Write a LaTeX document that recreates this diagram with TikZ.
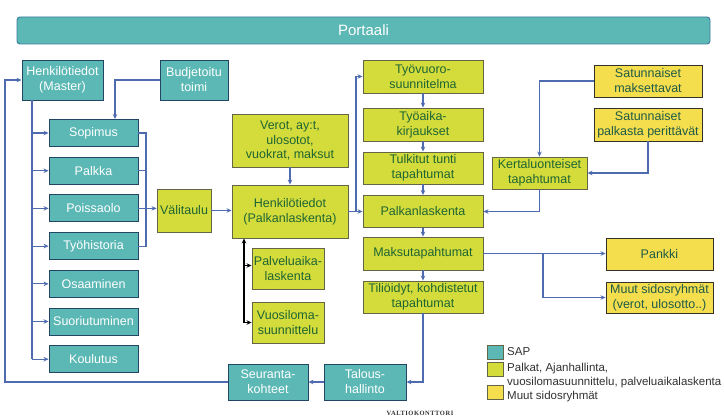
\documentclass[tikz,border=0pt]{standalone}
\usepackage{fontspec}
\setmainfont{Liberation Sans}
\newfontfamily\vkfont[LetterSpace=8]{Liberation Serif}
\usetikzlibrary{arrows.meta,calc}
\definecolor{tealf}{RGB}{91,184,181}
\definecolor{tealb}{RGB}{35,70,100}
\definecolor{greenf}{RGB}{212,220,60}
\definecolor{greenb}{RGB}{100,100,70}
\definecolor{greent}{RGB}{30,100,50}
\definecolor{yellf}{RGB}{245,222,78}
\definecolor{yellb}{RGB}{50,50,40}
\definecolor{yellt}{RGB}{30,90,70}
\definecolor{linec}{RGB}{79,107,176}
\definecolor{titleb}{RGB}{60,125,160}
\definecolor{legt}{RGB}{50,50,50}
\tikzset{
  box/.style={draw, line width=0.9pt, inner sep=0pt, align=center, font=\fontsize{12.5}{15}\selectfont},
  tbox/.style={box, fill=tealf, draw=tealb, text=white},
  gbox/.style={box, fill=greenf, draw=greenb, text=greent},
  ybox/.style={box, fill=yellf, draw=yellb, text=yellt},
  conn/.style={draw=linec, line width=1.1pt, -{Stealth[length=5pt,width=4.5pt]}},
  plain/.style={draw=linec, line width=1.1pt},
  blk/.style={draw=black, line width=1.1pt, -{Stealth[length=5pt,width=4.5pt]}},
  legsq/.style={draw=greenb, line width=0.6pt, inner sep=0pt, minimum width=16, minimum height=14},
  legtxt/.style={anchor=west, inner sep=0pt, text=legt, font=\fontsize{11.5}{13}\selectfont},
}
\begin{document}
\begin{tikzpicture}[x=1pt,y=-1pt]
\useasboundingbox[fill=white] (0,0) rectangle (724,420);
% title
\node[draw=titleb, fill=tealf, line width=0.9pt, rounded corners=3pt, minimum width=693, minimum height=27, inner sep=0pt, text=white, font=\fontsize{15}{17}\selectfont] (portaali) at (363.5,30.5) {Portaali};
% left column
\node[tbox, minimum width=81, minimum height=40] (master) at (62.5,80) {Henkilötiedot\\(Master)};
\node[tbox, minimum width=68, minimum height=40] (budget) at (194,80) {Budjetoitu\\toimi};
\node[tbox, minimum width=89, minimum height=27] (sopimus) at (93.5,133) {Sopimus};
\node[tbox, minimum width=89, minimum height=27] (palkka) at (93.5,170.7) {Palkka};
\node[tbox, minimum width=89, minimum height=27] (poissaolo) at (93.5,208.4) {Poissaolo};
\node[tbox, minimum width=89, minimum height=27] (tyohist) at (93.5,246.1) {Työhistoria};
\node[tbox, minimum width=89, minimum height=27] (osaam) at (93.5,283.8) {Osaaminen};
\node[tbox, minimum width=89, minimum height=27] (suoriut) at (93.5,321.5) {Suoriutuminen};
\node[tbox, minimum width=89, minimum height=27] (koulutus) at (93.5,359.2) {Koulutus};
\node[gbox, minimum width=54, minimum height=43] (valitaulu) at (184,210.5) {Välitaulu};
% middle
\node[gbox, minimum width=116, minimum height=53] (verot) at (290,140.5) {Verot, ay:t,\\ulosotot,\\vuokrat, maksut};
\node[gbox, minimum width=116, minimum height=53] (hp) at (290,211.5) {Henkilötiedot\\(Palkanlaskenta)};
\node[gbox, minimum width=72, minimum height=41] (palvelu) at (288,268.5) {Palveluaika-\\laskenta};
\node[gbox, minimum width=72, minimum height=41] (vuosi) at (288,322.5) {Vuosiloma-\\suunnittelu};
% right column
\node[gbox, minimum width=120, minimum height=33] (tyovuoro) at (423,76.5) {Työvuoro-\\suunnitelma};
\node[gbox, minimum width=120, minimum height=33] (tyoaika) at (423,124.5) {Työaika-\\kirjaukset};
\node[gbox, minimum width=120, minimum height=32] (tulkitut) at (423,168) {Tulkitut tunti\\tapahtumat};
\node[gbox, minimum width=120, minimum height=32] (palkanl) at (423,211.5) {Palkanlaskenta};
\node[gbox, minimum width=120, minimum height=33] (maksu) at (423,253.5) {Maksutapahtumat};
\node[gbox, minimum width=120, minimum height=32] (tilioidyt) at (423,297) {Tiliöidyt, kohdistetut\\tapahtumat};
\node[gbox, minimum width=95, minimum height=32] (kerta) at (539.5,173) {Kertaluonteiset\\tapahtumat};
\node[ybox, minimum width=108, minimum height=32] (satm) at (648,81) {Satunnaiset\\maksettavat};
\node[ybox, minimum width=108, minimum height=33] (satp) at (648,124.5) {Satunnaiset\\palkasta perittävät};
\node[ybox, minimum width=107, minimum height=32] (pankki) at (659.5,254) {Pankki};
\node[ybox, minimum width=107, minimum height=31] (muut) at (659.5,297.5) {Muut sidosryhmät\\(verot, ulosotto..)};
\node[tbox, minimum width=82, minimum height=36] (talous) at (365,382) {Talous-\\hallinto};
\node[tbox, minimum width=80, minimum height=36] (seuranta) at (268,382) {Seuranta-\\kohteet};
% coordinates
\coordinate (loopx) at (5,0);
\coordinate (trunk) at (32,100);
\coordinate (br) at (146,0);
\coordinate (hb) at (356,0);
\coordinate (pb) at (244,0);
\coordinate (mb) at (543,0);
% connectors left
\draw[conn] (seuranta.west) -- (seuranta.west -| loopx) |- (master.west);
\draw[plain] (trunk) -- (trunk |- koulutus.west);
\foreach \b in {sopimus,palkka,poissaolo,tyohist,osaam,suoriut,koulutus}
  \draw[conn] (trunk |- \b.west) -- (\b.west);
\draw[conn] (budget.west) -| ([xshift=21.5]sopimus.north);
\draw[plain] (sopimus.east) -- (sopimus.east -| br) -- (tyohist.east -| br) -- (tyohist.east);
\draw[plain] (palkka.east) -- (palkka.east -| br);
\draw[conn] (poissaolo.east) -- (valitaulu.west |- poissaolo.east);
\draw[conn] (valitaulu.east) -- (hp.west |- valitaulu.east);
\draw[conn] (verot.south) -- (hp.north);
% black
\draw[blk] (pb |- vuosi.west) -- (pb |- hp.south);
\draw[blk] ([yshift=3]pb |- palvelu.west) -- ([yshift=3]palvelu.west);
\draw[blk] (pb |- vuosi.west) -- (vuosi.west);
% right
\draw[conn] (hp.east) -- (palkanl.west);
\draw[conn] (hb |- hp.east) |- (tyovuoro.west);
\draw[conn] (tyovuoro.south) -- (tyoaika.north);
\draw[conn] (tyoaika.south) -- (tulkitut.north);
\draw[conn] (tulkitut.south) -- (palkanl.north);
\draw[conn] (palkanl.south) -- (maksu.north);
\draw[conn] (maksu.south) -- (tilioidyt.north);
\draw[conn] (satm.west) -| (kerta.north);
\draw[conn] (satp.south) |- (kerta.east);
\draw[conn] (kerta.south) |- (palkanl.east);
\draw[conn] (maksu.east) -- (pankki.west |- maksu.east);
\draw[conn] (mb |- maksu.east) |- (muut.west);
\draw[conn] (tilioidyt.south) |- (talous.east);
\draw[conn] (talous.west) -- (seuranta.east);
% legend
\node[legsq, fill=tealf] (l1) at (495,352.5) {};
\node[legsq, fill=greenf] (l2) at (495,369.5) {};
\node[legsq, fill=yellf] (l3) at (495,392) {};
\node[legtxt] (t1) at (507,352) {SAP};
\node[legtxt] (t2) at (507,368.5) {Palkat, Ajanhallinta,};
\node[legtxt] (t3) at (507,383) {vuosilomasuunnittelu, palveluaikalaskenta};
\node[legtxt] (t4) at (507,397) {Muut sidosryhmät};
\node[inner sep=0pt, text=legt, font=\vkfont\bfseries\fontsize{6.5}{7}\selectfont] (vk) at (420,413) {VALTIOKONTTORI};
\end{tikzpicture}
\end{document}
